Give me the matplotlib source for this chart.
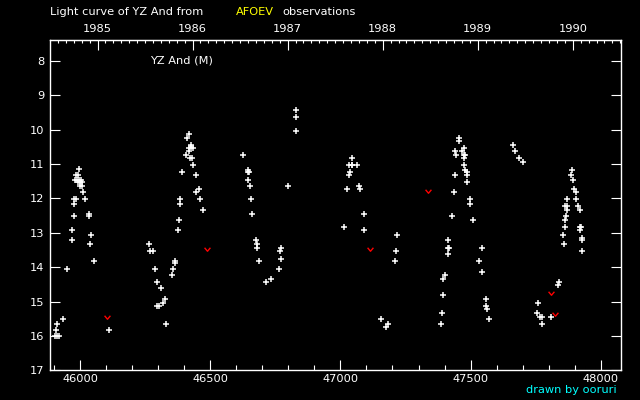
import matplotlib
matplotlib.use("Agg")
import matplotlib.pyplot as plt
import numpy as np
from matplotlib.path import Path
from matplotlib.ticker import MultipleLocator, FixedLocator

# visual observations, JD - 2400000 and magnitude
jd = [45996, 45985, 45992, 45981, 45988, 45996, 46004, 45992, 46000, 46008,
      46000, 46008, 46012, 45977, 45985, 46019, 45977, 46035, 46035, 45977,
      45969, 46042, 45969, 46038, 46054, 45950, 45935, 45912, 45908, 45904,
      45912, 45919, 46112,
      46419, 46412, 46427, 46427, 46419, 46435, 46419, 46408, 46423, 46431,
      46435, 46392, 46446, 46458, 46446, 46385, 46459, 46385, 46473, 46381,
      46377, 46265, 46269, 46281, 46365, 46365, 46288, 46358, 46354, 46296,
      46312, 46327, 46319, 46296, 46304, 46328,
      46831, 46831, 46831, 46627, 46646, 46646, 46650, 46646, 46654, 46800,
      46658, 46662, 46677, 46681, 46681, 46773, 46769, 46773, 46688, 46765,
      46735, 46715,
      47043, 47031, 47043, 47046, 47062, 47035, 47031, 47073, 47077, 47027,
      47092, 47015, 47092, 47218, 47215, 47208, 47154, 47181, 47175,
      47454, 47454, 47473, 47439, 47466, 47443, 47473, 47477, 47473, 47473,
      47477, 47488, 47485, 47439, 47488, 47435, 47496, 47496, 47427, 47508,
      47415, 47412, 47419, 47415, 47531, 47400, 47396, 47396, 47392, 47385,
      47543, 47543, 47558, 47558, 47562, 47569,
      47662, 47669, 47688, 47700, 47888, 47885, 47892, 47896, 47904, 47869,
      47904, 47862, 47869, 47912, 47869, 47919, 47865, 47862, 47862, 47919,
      47923, 47919, 47855, 47927, 47927, 47858, 47927, 47839, 47835, 47758,
      47754, 47765, 47773, 47808, 47773]
mag = [11.15, 11.33, 11.33, 11.45, 11.45, 11.45, 11.45, 11.53, 11.53, 11.53,
       11.65, 11.65, 11.82, 12.03, 12.03, 12.03, 12.15, 12.45, 12.52, 12.52,
       12.93, 13.05, 13.22, 13.34, 13.83, 14.04, 15.52, 15.64, 15.82, 16.0,
       16.0, 16.0, 15.82,
       10.13, 10.25, 10.46, 10.51, 10.54, 10.54, 10.63, 10.75, 10.83, 10.83,
       11.04, 11.24, 11.33, 11.74, 11.82, 12.03, 12.03, 12.15, 12.35, 12.64,
       12.93, 13.34, 13.54, 13.54, 13.83, 13.89, 14.04, 14.04, 14.24, 14.42,
       14.62, 14.94, 15.03, 15.12, 15.12, 15.64,
       9.44, 9.64, 10.05, 10.75, 11.16, 11.24, 11.24, 11.45, 11.65, 11.65,
       12.03, 12.44, 13.22, 13.34, 13.43, 13.43, 13.54, 13.75, 13.83, 14.04,
       14.33, 14.42,
       10.83, 11.04, 11.04, 11.04, 11.04, 11.24, 11.33, 11.65, 11.74, 11.74,
       12.44, 12.84, 12.93, 13.05, 13.54, 13.83, 15.52, 15.64, 15.73,
       10.25, 10.34, 10.54, 10.63, 10.63, 10.75, 10.75, 10.75, 10.83, 11.04,
       11.16, 11.24, 11.33, 11.33, 11.53, 11.82, 12.03, 12.15, 12.52, 12.64,
       13.22, 13.43, 13.43, 13.63, 13.83, 14.24, 14.33, 14.82, 15.32, 15.64,
       13.43, 14.13, 14.94, 15.12, 15.23, 15.52,
       10.46, 10.63, 10.83, 10.95, 11.16, 11.33, 11.45, 11.74, 11.82, 12.03,
       12.03, 12.23, 12.23, 12.23, 12.35, 12.35, 12.52, 12.64, 12.84, 12.84,
       12.84, 12.93, 13.05, 13.14, 13.22, 13.34, 13.54, 14.42, 14.53, 15.03,
       15.32, 15.44, 15.44, 15.44, 15.64]

# "fainter than" estimates (red marks)
jd_lim = [46104, 46488, 47115, 47335, 47808, 47823]
mag_lim = [15.45, 13.48, 13.48, 11.77, 14.76, 15.37]

years = [1985, 1986, 1987, 1988, 1989, 1990]


def jd2yr(x):
    return 1985.0 + (np.asarray(x) - 46066.5) / 365.25


def yr2jd(y):
    return 46066.5 + (np.asarray(y) - 1985.0) * 365.25


W, H = 640, 400
fig = plt.figure(figsize=(6.4, 4.0), dpi=100, facecolor="black")
ax = fig.add_axes([50.3 / W, 1 - 370.3 / H, 570.4 / W, 330.0 / H])
ax.set_facecolor("black")

ax.plot(jd, mag, ls="none", marker="+", ms=3.7, mew=1.1, color="white")
vee = Path([(-1, 0.6), (0, -0.6), (1, 0.6)],
           [Path.MOVETO, Path.LINETO, Path.LINETO])
ax.plot(jd_lim, mag_lim, ls="none", marker=vee, ms=4.2, mew=1.0,
        color="red", fillstyle="none")

ax.set_xlim(45885, 48077)
ax.set_ylim(17.0, 7.4)

for s in ax.spines.values():
    s.set_color("white")
    s.set_linewidth(1.0)

fs = 8.2
ax.xaxis.set_major_locator(MultipleLocator(500))
ax.xaxis.set_minor_locator(MultipleLocator(100))
ax.yaxis.set_major_locator(MultipleLocator(1))
ax.yaxis.set_minor_locator(FixedLocator([]))
ax.tick_params(axis="x", which="major", direction="in", length=7.2,
               width=0.8, color="white", labelcolor="white", labelsize=fs,
               pad=2.5, top=False)
ax.tick_params(axis="x", which="minor", direction="in", length=3.6,
               width=0.8, color="white", top=False)
ax.tick_params(axis="y", which="major", direction="in", length=7.2,
               width=0.8, color="white", labelcolor="white", labelsize=fs,
               pad=4.5, right=True)

sec = ax.secondary_xaxis("top", functions=(jd2yr, yr2jd))
sec.spines["top"].set_color("white")
sec.xaxis.set_major_locator(FixedLocator(years))
sec.xaxis.set_minor_locator(MultipleLocator(1 / 12))
sec.set_xticklabels([str(y) for y in years])
sec.tick_params(which="major", direction="in", length=7.2, width=0.8,
                color="white", labelcolor="white", labelsize=fs, pad=4.5)
sec.tick_params(which="minor", direction="in", length=2.2, width=0.8,
                color="white")

fig.text(50 / W, 1 - 12 / H, "Light curve of YZ And from", color="white",
         fontsize=fs, va="center", ha="left")
fig.text(236 / W, 1 - 12 / H, "AFOEV", color="yellow",
         fontsize=fs, va="center", ha="left")
fig.text(282 / W, 1 - 12 / H, "observations", color="white",
         fontsize=fs, va="center", ha="left")
fig.text(150 / W, 1 - 60.5 / H, "YZ And (M)", color="white",
         fontsize=fs, va="center", ha="left")
fig.text(617 / W, 1 - 390 / H, "drawn by ooruri", color="#00ffff",
         fontsize=fs, va="center", ha="right")

fig.savefig("out.png", dpi=100, facecolor="black")
